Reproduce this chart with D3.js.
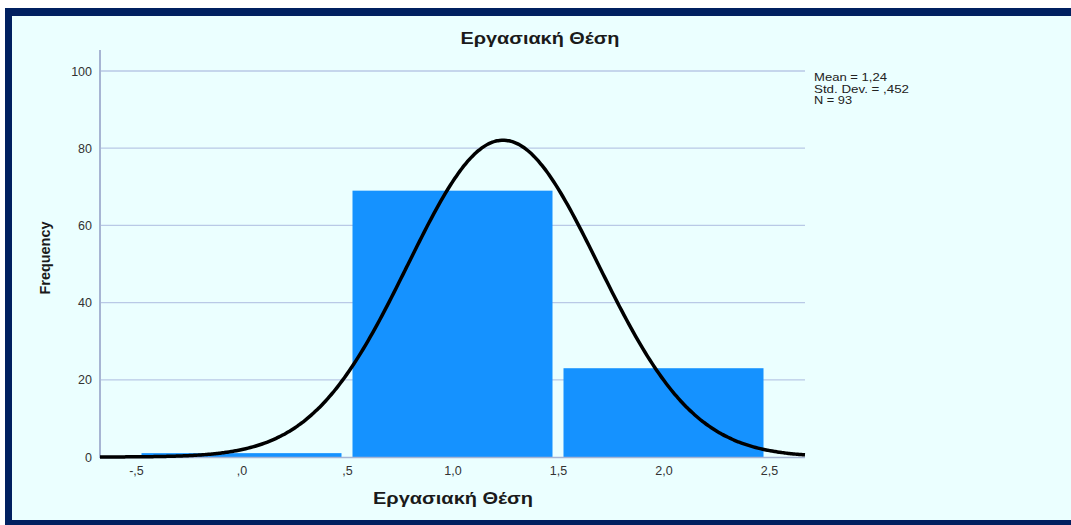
<!DOCTYPE html>
<html><head><meta charset="utf-8">
<script src="https://cdn.jsdelivr.net/npm/d3@7"></script>
<style>html,body{margin:0;padding:0;background:#fff;overflow:hidden}</style>
</head><body>
<script>
const binCenters = [0, 1, 2];
const binCounts = [1, 69, 23];
const binWidth = 1;
const xTickValues = [-0.5, 0, 0.5, 1.0, 1.5, 2.0, 2.5];
const xTickLabels = ["-,5", ",0", ",5", "1,0", "1,5", "2,0", "2,5"];
const yTickValues = [0, 20, 40, 60, 80, 100];
const statsLines = ["Mean = 1,24", "Std. Dev. = ,452", "N = 93"];
const mean = 1.24, sd = 0.452, N = 93;
const title = "Εργασιακή Θέση";

const W = 1071, H = 525;
const FONT = "Arial, 'Liberation Sans', sans-serif";
const svg = d3.select("body").append("svg").attr("width", W).attr("height", H)
  .style("font-family", FONT);

svg.append("rect").attr("x", 5).attr("y", 8).attr("width", W - 5).attr("height", H - 8).attr("fill", "#002060");
svg.append("rect").attr("x", 12).attr("y", 16).attr("width", W - 12).attr("height", 504).attr("fill", "#EBFFFF");

const x = d3.scaleLinear().domain([-0.5, 2.5]).range([136, 769]);
const y = d3.scaleLinear().domain([0, 100]).range([457, 71]);
const xMin = x.invert(100), xMax = x.invert(805);

// gridlines
svg.append("g").selectAll("line").data(yTickValues.filter(d => d > 0)).join("line")
  .attr("x1", 100).attr("x2", 805).attr("y1", d => y(d)).attr("y2", d => y(d))
  .attr("stroke", "#B9C9E6").attr("stroke-width", 1.3);

// bars
const gap = 5.5;
svg.append("g").selectAll("rect").data(binCenters).join("rect")
  .attr("x", (d) => x(d - binWidth / 2) + gap)
  .attr("width", d => x(d + binWidth / 2) - x(d - binWidth / 2) - 2 * gap)
  .attr("y", (d, i) => y(binCounts[i]))
  .attr("height", (d, i) => y(0) - y(binCounts[i]))
  .attr("fill", "#1592FF");

// axes lines
svg.append("line").attr("x1", 100).attr("x2", 100).attr("y1", 50).attr("y2", 458)
  .attr("stroke", "#A7B5D3").attr("stroke-width", 2);
svg.append("line").attr("x1", 100).attr("x2", 805).attr("y1", 457.5).attr("y2", 457.5)
  .attr("stroke", "#A7B5D3").attr("stroke-width", 1.5);

// y axis via d3
const yAxis = d3.axisLeft(y).tickValues(yTickValues).tickSize(0).tickPadding(8).tickFormat(d3.format("d"));
const gy = svg.append("g").attr("transform", "translate(100,0)").call(yAxis);
gy.select(".domain").remove();
gy.selectAll("text").attr("font-size", 12.5).attr("fill", "#333").attr("font-family", FONT);

// x axis via d3
const xAxis = d3.axisBottom(x).tickValues(xTickValues).tickSize(0).tickPadding(9)
  .tickFormat((d, i) => xTickLabels[i]);
const gx = svg.append("g").attr("transform", "translate(0,457)").call(xAxis);
gx.select(".domain").remove();
gx.selectAll("text").attr("font-size", 12.5).attr("fill", "#333").attr("font-family", FONT);

// normal curve
const pdf = v => Math.exp(-0.5 * ((v - mean) / sd) ** 2) / (sd * Math.sqrt(2 * Math.PI));
const pts = d3.range(0, 301).map(i => xMin + (xMax - xMin) * i / 300);
svg.append("path").datum(pts)
  .attr("d", d3.line().x(v => x(v)).y(v => y(N * binWidth * pdf(v))).curve(d3.curveBasis))
  .attr("fill", "none").attr("stroke", "#000").attr("stroke-width", 3.5);

// titles
svg.append("text").attr("x", 540).attr("y", 44).attr("text-anchor", "middle")
  .attr("font-size", 16.5).attr("font-weight", "bold").attr("fill", "#1a1a1a")
  .attr("textLength", 159).attr("lengthAdjust", "spacingAndGlyphs").text(title);
svg.append("text").attr("x", 453).attr("y", 504).attr("text-anchor", "middle")
  .attr("font-size", 17).attr("font-weight", "bold").attr("fill", "#1a1a1a")
  .attr("textLength", 160).attr("lengthAdjust", "spacingAndGlyphs").text(title);
svg.append("text").attr("transform", "translate(50,258) rotate(-90)").attr("text-anchor", "middle")
  .attr("font-size", 15).attr("font-weight", "bold").attr("fill", "#1a1a1a")
  .attr("textLength", 73).attr("lengthAdjust", "spacingAndGlyphs").text("Frequency");

// stats
const statsWidths = [73, 95, 38];
svg.append("g").selectAll("text").data(statsLines).join("text")
  .attr("x", 814).attr("y", (d, i) => 81 + i * 11.5)
  .attr("font-size", 11).attr("fill", "#222")
  .attr("textLength", (d, i) => statsWidths[i]).attr("lengthAdjust", "spacingAndGlyphs")
  .text(d => d);
</script>
</body></html>
